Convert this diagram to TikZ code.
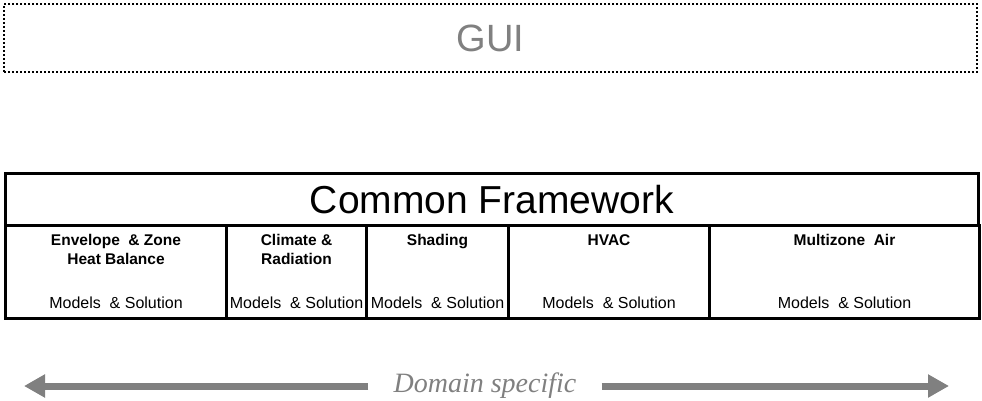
\documentclass[tikz,border=0pt]{standalone}
\usepackage{fontspec}
\setmainfont{Liberation Sans}
\newfontfamily\serifit{Liberation Serif}
\usetikzlibrary{arrows.meta, positioning}
\definecolor{guigray}{RGB}{128, 128, 128}

\begin{document}
\begin{tikzpicture}[
    x=1pt, y=-1pt,
    guibox/.style={rectangle, draw=black, line width=2pt, dash pattern=on 2pt off 2pt, minimum width=973pt, minimum height=68pt, text=guigray, font=\fontsize{38}{40}\selectfont},
    framebox/.style={rectangle, draw=black, line width=3pt, inner sep=0pt},
    column/.style={rectangle, draw=black, line width=3pt, inner sep=0pt, minimum height=93pt, anchor=north west},
    coltitle/.style={align=center, inner sep=0pt, font=\bfseries\fontsize{15.5}{19}\selectfont},
    colmodel/.style={inner sep=0pt, font=\fontsize{16}{18}\selectfont},
    domarrow/.style={draw=guigray, line width=7pt, -{Triangle[length=21pt, width=22pt]}}
]
\useasboundingbox (0,0) rectangle (982,401);

% GUI layer
\node[guibox] (gui) at (490.5,38) {GUI};

% Common framework
\node[framebox, minimum width=973pt, minimum height=52pt, anchor=north west, font=\fontsize{39}{42}\selectfont] (common) at (4,172) {Common Framework};

% Domain columns
\node[column, minimum width=221pt] (env) at (4,224) {};
\node[column, minimum width=140pt] (climate) at (225,224) {};
\node[column, minimum width=142pt] (shading) at (365,224) {};
\node[column, minimum width=201pt] (hvac) at (507,224) {};
\node[column, minimum width=270pt] (airflow) at (708,224) {};

% Column titles
\node[coltitle, below=10pt of env.north] (envtitle) {Envelope \ \& Zone\\Heat Balance};
\node[coltitle, below=10pt of climate.north] (climatetitle) {Climate \&\\Radiation};
\node[coltitle, below=10pt of shading.north] (shadingtitle) {Shading};
\node[coltitle, below=10pt of hvac.north] (hvactitle) {HVAC};
\node[coltitle, below=10pt of airflow.north] (airflowtitle) {Multizone \ Air};

% Models & Solution
\node[colmodel, above=11pt of env.south] (envmodel) {Models \ \& Solution};
\node[colmodel, above=11pt of climate.south] (climatemodel) {Models \ \& Solution};
\node[colmodel, above=11pt of shading.south] (shadingmodel) {Models \ \& Solution};
\node[colmodel, above=11pt of hvac.south] (hvacmodel) {Models \ \& Solution};
\node[colmodel, above=11pt of airflow.south] (airflowmodel) {Models \ \& Solution};

% Domain arrow
\node[text=guigray, inner xsep=25pt, inner ysep=0pt, font=\serifit\itshape\fontsize{28}{30}\selectfont] (domain) at (485,386) {Domain specific};
\coordinate (leftend) at (24,386);
\coordinate (rightend) at (949,386);
\draw[domarrow] (domain.west) -- (leftend);
\draw[domarrow] (domain.east) -- (rightend);

\end{tikzpicture}
\end{document}
